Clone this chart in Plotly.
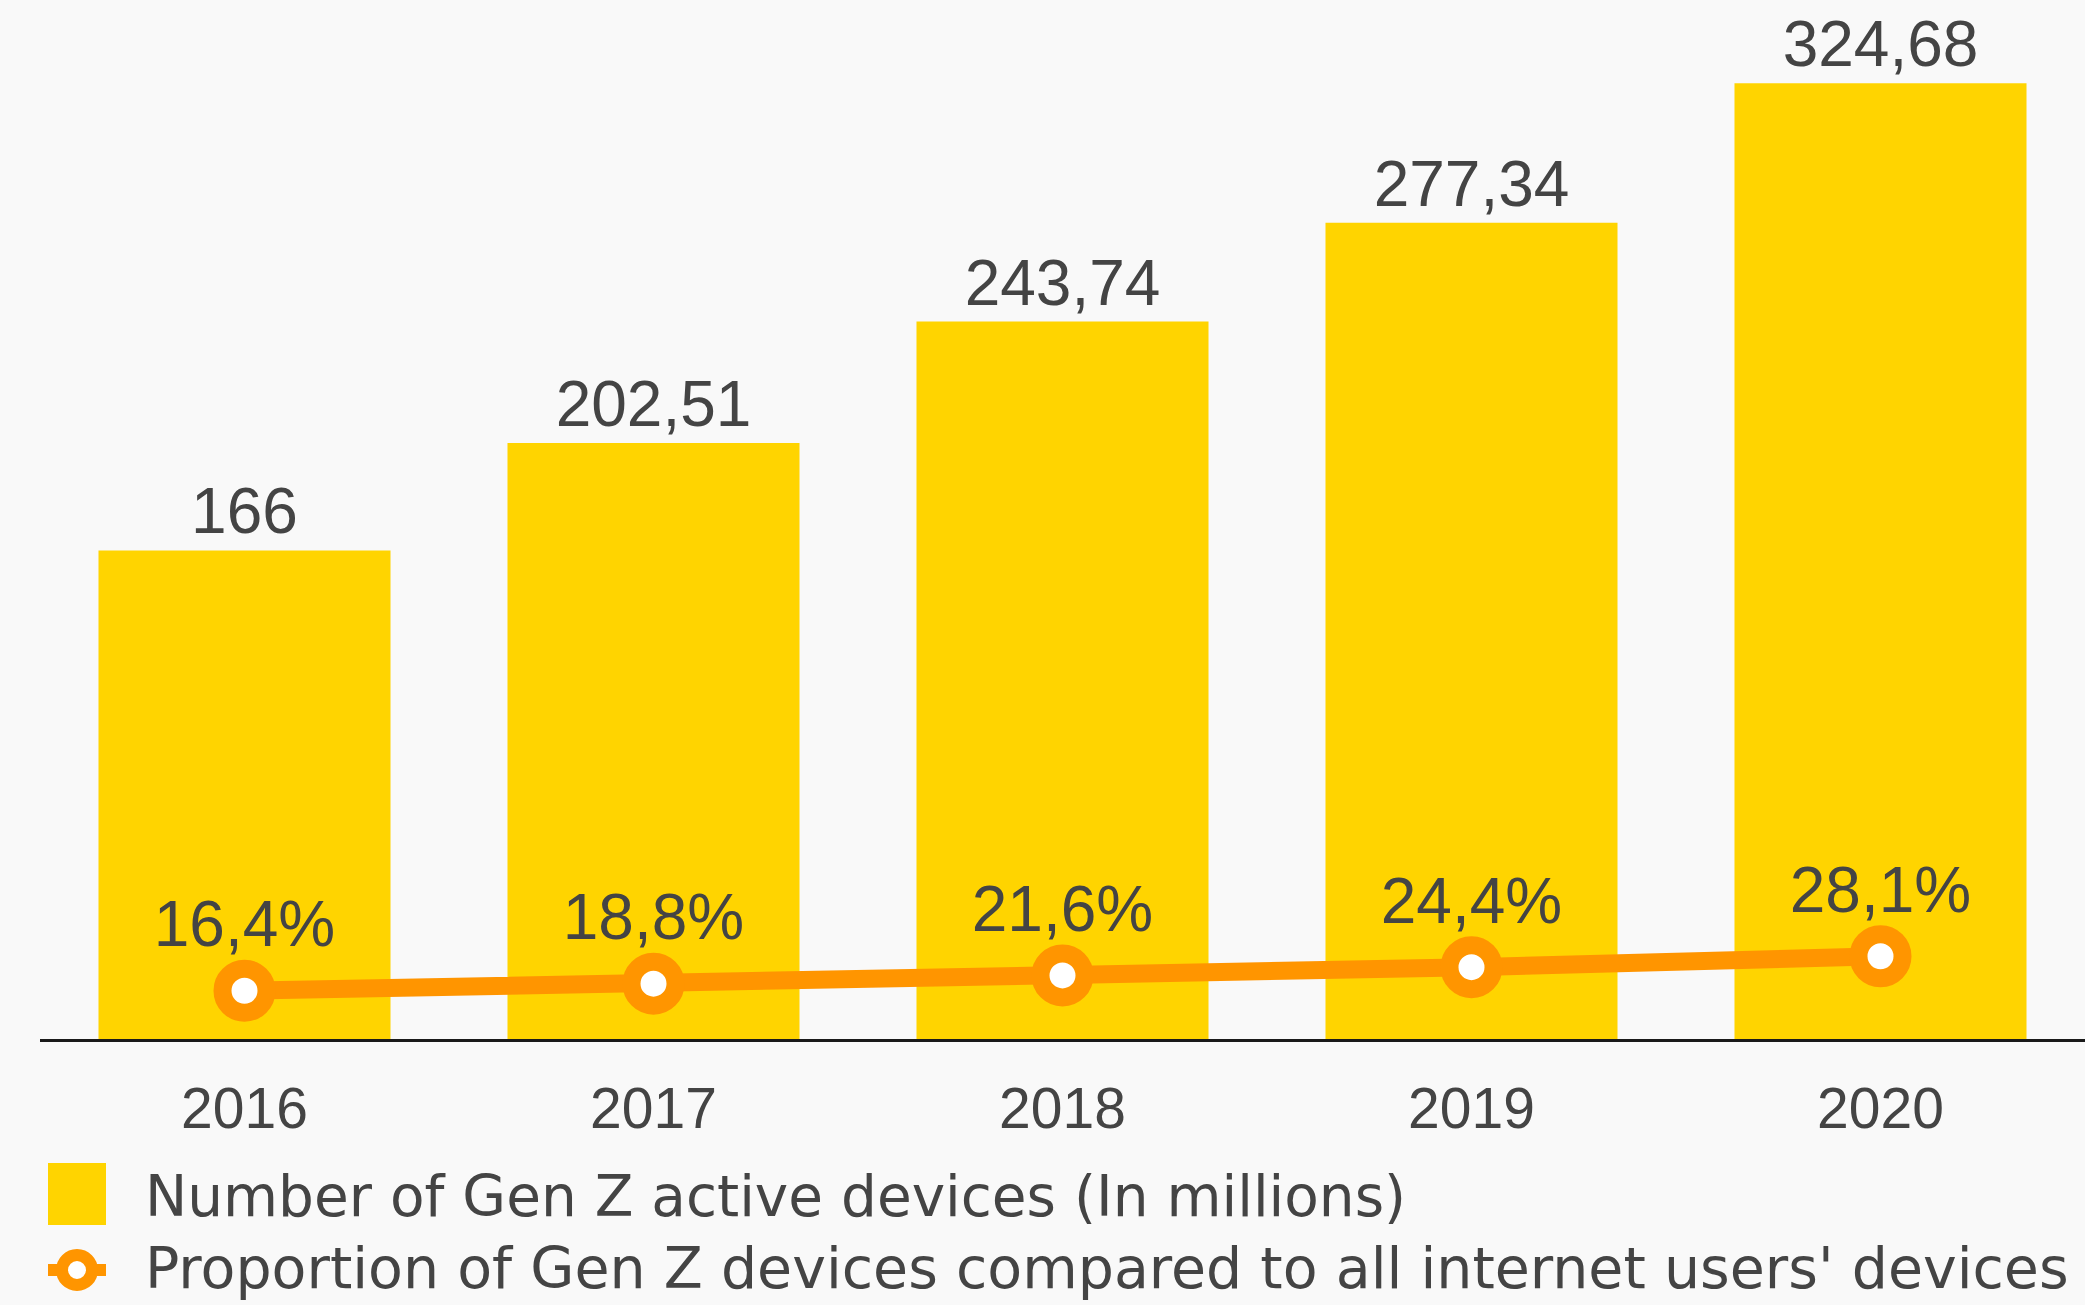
import plotly.graph_objects as go

# ---- data ----
years = ["2016", "2017", "2018", "2019", "2020"]
devices_millions = [166, 202.51, 243.74, 277.34, 324.68]
share_percent = [16.4, 18.8, 21.6, 24.4, 28.1]
legend_labels = [
    "Number of Gen Z active devices (In millions)",
    "Proportion of Gen Z devices compared to all internet users' devices",
]

# ---- style ----
W, H = 2085, 1305
ML, MR, MT, MB = 40, 0, 0, 266
BG = "#F9F9F9"
YELLOW = "#FFD400"
ORANGE = "#FF9500"
TXT = "#444444"
FONT = "Liberation Sans, Arial, sans-serif"

def fmt(v):
    return f"{v:g}".replace(".", ",")

bar_text = [fmt(v) for v in devices_millions]
line_text = [fmt(v) + "%" for v in share_percent]

fig = go.Figure()
fig.add_trace(go.Bar(
    x=years, y=devices_millions, name=legend_labels[0],
    marker=dict(color=YELLOW, line=dict(width=0)),
    text=bar_text, textposition="outside", cliponaxis=False,
    constraintext="none",
    textfont=dict(size=64, color=TXT, family=FONT),
    showlegend=False,
))
fig.add_trace(go.Scatter(
    x=years, y=share_percent, name=legend_labels[1],
    mode="lines+markers+text",
    line=dict(color=ORANGE, width=18),
    marker=dict(size=44, color="white", line=dict(color=ORANGE, width=18)),
    text=line_text, textposition="top center", cliponaxis=False,
    textfont=dict(size=64, color=TXT, family=FONT),
    showlegend=False,
))

# ---- manual legend (paper coordinates computed from pixel positions) ----
PW = W - ML - MR
PH = H - MT - MB
def px(xp):
    return (xp - ML) / PW
def py(yp):
    return (H - MB - yp) / PH

shapes = [
    dict(type="rect", xref="paper", yref="paper",
         x0=px(48), x1=px(106), y0=py(1225), y1=py(1163),
         fillcolor=YELLOW, line=dict(width=0)),
    dict(type="line", xref="paper", yref="paper",
         x0=px(48), x1=px(106), y0=py(1270), y1=py(1270),
         line=dict(color=ORANGE, width=12)),
    dict(type="circle", xref="paper", yref="paper",
         x0=px(77 - 15), x1=px(77 + 15), y0=py(1270 + 15), y1=py(1270 - 15),
         fillcolor="white", line=dict(color=ORANGE, width=12)),
]
annotations = [
    dict(text=legend_labels[0], xref="paper", yref="paper",
         x=px(143), y=py(1196), xanchor="left", yanchor="middle",
         showarrow=False, font=dict(size=56.5, color=TXT, family="DejaVu Sans, sans-serif")),
    dict(text=legend_labels[1], xref="paper", yref="paper",
         x=px(143), y=py(1268), xanchor="left", yanchor="middle",
         showarrow=False, font=dict(size=57, color=TXT, family="DejaVu Sans, sans-serif")),
]

fig.update_layout(
    width=W, height=H,
    margin=dict(l=ML, r=MR, t=MT, b=MB, pad=0),
    paper_bgcolor=BG, plot_bgcolor=BG,
    bargap=0.286,
    showlegend=False,
    shapes=shapes, annotations=annotations,
    font=dict(family=FONT, color=TXT),
)
fig.update_xaxes(
    type="category", range=[-0.5, 4.5],
    showline=True, linecolor="#1a1a1a", linewidth=3,
    showgrid=False, zeroline=False, ticks="",
    tickfont=dict(size=57, color=TXT, family=FONT),
    ticklabelstandoff=18,
)
fig.update_yaxes(
    range=[0, 353], visible=False, showgrid=False, zeroline=False,
)

fig.write_html(
    "out.html",
    config={"displayModeBar": False},
    post_script="document.body.style.margin='0';document.body.style.background='%s';" % BG,
)
